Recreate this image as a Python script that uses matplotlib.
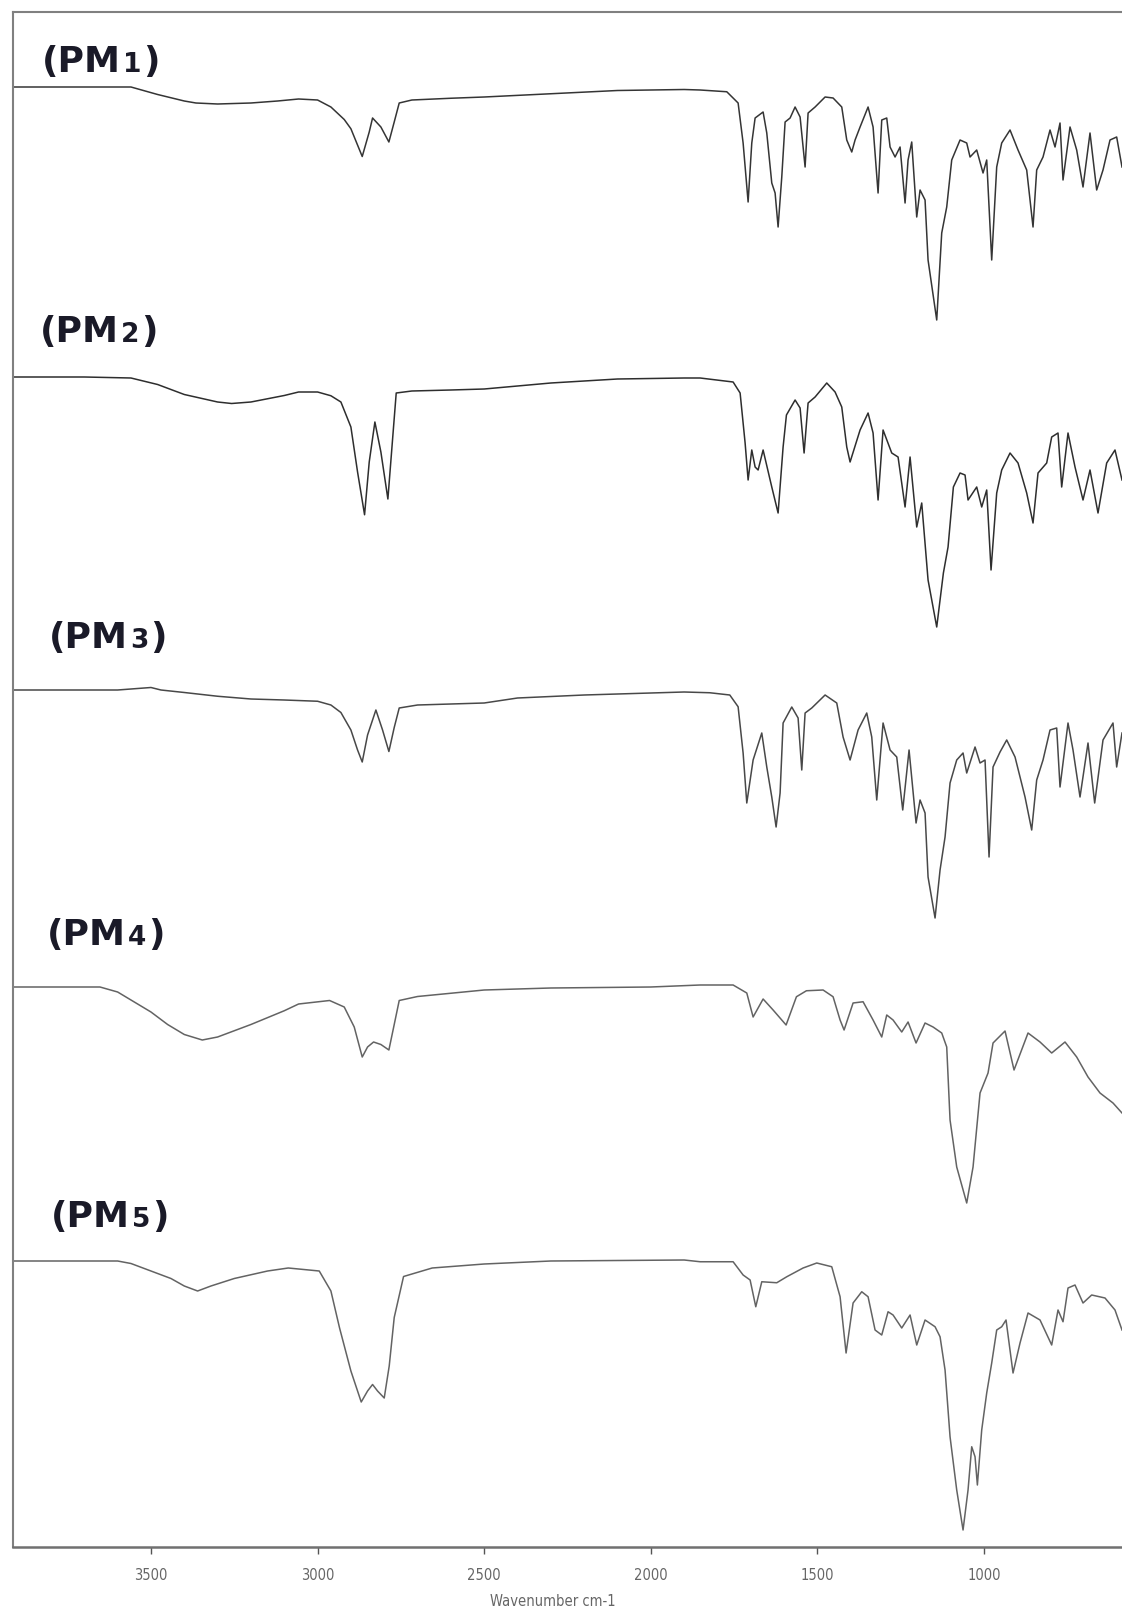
import matplotlib
matplotlib.use("Agg")
import matplotlib.pyplot as plt
import numpy as np

wn_pm1 = [3914, 3700, 3560, 3480, 3400, 3365, 3300, 3200, 3120, 3057, 3000, 2960, 2920, 2900, 2866, 2845,
          2835, 2810, 2786, 2770, 2755, 2717, 2600, 2500, 2300, 2100, 1900, 1852, 1772, 1738, 1723, 1708,
          1697, 1687, 1663, 1652, 1637, 1627, 1618, 1607, 1597, 1582, 1567, 1552, 1537, 1528, 1507, 1477,
          1453, 1427, 1412, 1397, 1387, 1372, 1348, 1333, 1318, 1307, 1292, 1282, 1267, 1252, 1237, 1228,
          1217, 1202, 1192, 1177, 1168, 1142, 1127, 1112, 1097, 1072, 1052, 1042, 1022, 1003, 992, 977,
          962, 947, 922, 898, 872, 853, 842, 823, 802, 787, 772, 763, 742, 722, 703, 682, 662, 643, 622,
          602, 586]
t_pm1 = [100, 100, 100, 97, 94.4, 93.6, 93.2, 93.6, 94.4, 95.2, 94.8, 92, 87, 83.3, 72.2, 82,
         87.6, 84, 78, 86, 93.6, 94.8, 95.5, 96, 97.3, 98.6, 99, 98.8, 98.1, 93.6, 77.6, 54,
         77.6, 87.6, 90, 81.6, 61.6, 57.6, 44, 64, 86, 87.6, 92, 88, 68, 89.6, 92, 96,
         95.6, 92, 78.8, 74, 78.8, 84, 92, 84, 57.6, 86.8, 87.6, 76, 72, 76, 53.6, 70.8,
         78, 48, 58.8, 54.8, 30.8, 6.8, 41.6, 52, 70.8, 78.8, 77.6, 72, 74.8, 65.6, 70.8, 30.8,
         68, 77.6, 82.8, 74.8, 66.8, 44, 66.8, 72, 82.8, 76, 85.6, 62.8, 84, 74.8, 60, 81.6, 58.8, 66.8, 78.8,
         80, 68]

wn_pm2 = [3914, 3700, 3560, 3480, 3400, 3300, 3258, 3200, 3100, 3057, 3000, 2960, 2930, 2900, 2880, 2859,
          2845, 2828, 2810, 2789, 2775, 2764, 2717, 2600, 2500, 2300, 2100, 1900, 1852, 1753, 1732, 1717,
          1708, 1697, 1687, 1678, 1663, 1637, 1618, 1603, 1593, 1567, 1552, 1540, 1528, 1507, 1472, 1447,
          1427, 1412, 1402, 1372, 1348, 1333, 1318, 1303, 1277, 1258, 1237, 1222, 1202, 1187, 1168, 1142,
          1122, 1108, 1092, 1072, 1057, 1048, 1022, 1007, 992, 979, 962, 947, 922, 898, 872, 853, 838,
          812, 797, 778, 767, 748, 727, 703, 682, 658, 632, 607, 586]
t_pm2 = [100, 100, 99.6, 97, 93, 90, 89.4, 90, 92.6, 94, 94, 92.5, 90, 80, 62, 44.9,
         66, 82, 70, 51.2, 75, 93.6, 94.4, 94.8, 95.2, 97.6, 99.2, 99.6, 99.6, 98, 93.6, 73.6,
         58.8, 70.8, 64, 62.8, 70.8, 56, 45.6, 72, 84.8, 90.8, 87.6, 69.6, 89.6, 92, 97.6, 94,
         88, 72, 66, 78.8, 85.6, 77.6, 50.8, 78.8, 69.6, 68, 48, 68, 40, 49.6, 18.8, 0,
         21.6, 32, 56, 61.6, 60.8, 50.8, 56, 48, 54.8, 22.8, 53.6, 62.8, 69.6, 65.6, 53.6, 41.6, 61.6,
         65.6, 76, 77.6, 56, 77.6, 64, 50.8, 62.8, 45.6, 65.6, 70.8, 58.8]

wn_pm3 = [3914, 3700, 3600, 3500, 3470, 3400, 3300, 3200, 3100, 3000, 2960, 2930, 2900, 2880, 2866, 2850,
          2825, 2805, 2786, 2770, 2755, 2700, 2500, 2400, 2200, 2000, 1900, 1823, 1763, 1738, 1723, 1712,
          1693, 1667, 1652, 1637, 1624, 1612, 1603, 1577, 1558, 1547, 1537, 1517, 1477, 1442, 1423, 1402,
          1378, 1352, 1337, 1322, 1303, 1282, 1262, 1244, 1225, 1204, 1192, 1177, 1168, 1147, 1132, 1117,
          1102, 1082, 1063, 1052, 1027, 1012, 997, 985, 973, 952, 932, 907, 877, 857, 842, 823, 802,
          782, 772, 748, 733, 712, 688, 668, 643, 613, 602, 586]
t_pm3 = [100, 100, 100, 101, 100, 99, 97.5, 96.4, 96, 95.5, 94, 91, 84, 76, 71.2, 82,
         92, 84, 75.4, 85, 92.8, 94, 94.8, 96.8, 98, 98.8, 99.2, 98.9, 98, 93.3, 74.8, 54.8,
         72, 82.8, 69.2, 57.2, 45.2, 58.8, 86.8, 93.2, 88.8, 68, 90.8, 92.8, 98, 94.8, 81.2, 72,
         84, 90.8, 81.2, 56, 86.8, 76, 73.2, 52, 76, 46.8, 56, 50.8, 25.2, 8.8, 28, 41.2,
         62.8, 72, 74.8, 66.8, 77.2, 70.8, 72, 33.2, 69.2, 75.2, 80, 73.2, 57.2, 44, 64, 72, 84,
         84.8, 61.2, 86.8, 76, 57.2, 78.8, 54.8, 80, 86.8, 69.2, 82.8]

wn_pm4 = [3914, 3750, 3653, 3600, 3550, 3500, 3450, 3400, 3346, 3300, 3200, 3100, 3057, 2964, 2920, 2890,
          2866, 2850, 2832, 2810, 2786, 2770, 2755, 2700, 2500, 2300, 2000, 1852, 1753, 1712, 1693, 1663,
          1633, 1594, 1563, 1533, 1483, 1453, 1432, 1420, 1393, 1363, 1333, 1307, 1292, 1273, 1247, 1228,
          1204, 1177, 1153, 1127, 1112, 1102, 1082, 1052, 1033, 1012, 988, 973, 937, 910, 868, 832, 797,
          757, 722, 688, 652, 613, 586]
t_pm4 = [100, 100, 100, 98, 94, 90, 85, 81, 78.8, 80, 85, 90.5, 93.2, 94.6, 92, 84,
         72, 76, 78, 77, 74.8, 85, 94.6, 96.2, 98.8, 99.6, 100, 100.8, 100.8, 97.6, 88, 95.2,
         90.8, 84.8, 96.1, 98.5, 98.8, 96.1, 86.8, 82.8, 93.6, 94.1, 86.8, 80, 88.8, 86.8, 82, 86,
         77.6, 85.6, 84, 81.6, 76, 46.8, 28, 13.6, 28, 57.6, 65.6, 77.6, 82.4, 66.8, 81.6, 78, 73.6,
         78, 72, 64, 57.6, 53.6, 49.6]

wn_pm5 = [3914, 3600, 3560, 3500, 3440, 3400, 3360, 3320, 3250, 3150, 3088, 2995, 2960, 2934, 2900, 2869,
          2850, 2835, 2820, 2800, 2785, 2770, 2742, 2656, 2500, 2300, 1900, 1852, 1753, 1723, 1702, 1685,
          1667, 1622, 1592, 1543, 1502, 1457, 1432, 1414, 1393, 1367, 1348, 1327, 1307, 1288, 1273, 1247,
          1222, 1202, 1177, 1147, 1132, 1117, 1102, 1082, 1063, 1048, 1037, 1027, 1020, 1007, 992, 977,
          962, 947, 934, 913, 892, 868, 832, 797, 778, 763, 748, 727, 703, 677, 637, 607, 586]
t_pm5 = [100, 100, 99, 96, 93, 90, 88, 90, 93, 96, 97.2, 96, 88, 73.2, 56, 43.6,
         48, 50.6, 48, 45.2, 58, 77.4, 93.8, 97.2, 98.8, 100, 100.4, 99.7, 99.7, 94.4, 92.4, 81.7,
         91.7, 91.3, 93.7, 97.2, 99.2, 97.7, 85.7, 63.2, 83.2, 87.7, 85.7, 72.4, 70.4, 79.7, 78.4, 73.2,
         78.4, 66.4, 76.4, 73.7, 69.7, 56.4, 29.7, 8.4, -7.6, 8.4, 25.7, 21.7, 10.4, 32.4, 47.2, 59.2,
         72.4, 73.7, 76.4, 55.2, 67.2, 79.2, 76.4, 66.4, 80.4, 75.7, 89.2, 90.4, 83.2, 86.4, 85.2, 80.4, 72.4]

muestras = ["1", "2", "3", "4", "5"]
desplaz = [484, 368, 242.8, 124, 14.4]   # desplazamiento vertical de cada espectro
colores = ["#353535", "#2e2e2e", "#484848", "#636363", "#636363"]

espectros = [(wn_pm1, t_pm1), (wn_pm2, t_pm2), (wn_pm3, t_pm3), (wn_pm4, t_pm4), (wn_pm5, t_pm5)]

# --- 2. Figura ---
W, H = 1122, 1614
fig = plt.figure(figsize=(W / 100, H / 100), dpi=100)
ax = fig.add_axes([13 / W, (H - 1547) / H, (W - 13) / W, (1547 - 12) / H])

for (wn, t), off, c in zip(espectros, desplaz, colores):
    ax.plot(wn, np.array(t) + off, color=c, lw=1.1)

ax.set_xlim(3914, 586)
ax.set_ylim(0, 614)
ax.set_xticks([3500, 3000, 2500, 2000, 1500, 1000])
ax.set_yticks([])
ax.tick_params(axis="x", direction="out", length=5, width=1, color="#555555",
               pad=10, labelsize=10.5, labelcolor="#666666")
for lab in ax.get_xticklabels():
    lab.set_fontstretch("condensed")

ax.spines["right"].set_visible(False)
ax.spines["left"].set_color("#808080")
ax.spines["top"].set_color("#808080")
ax.spines["bottom"].set_color("#707070")
ax.spines["left"].set_linewidth(1.5)
ax.spines["top"].set_linewidth(1.5)
ax.spines["bottom"].set_linewidth(1.8)

fig.text(553 / W, 1 - 1602 / H, "Wavenumber cm-1", ha="center", va="center",
         fontsize=10.5, color="#666666", fontstretch="condensed")

# --- 3. Etiquetas (PMn) ---
renderer = fig.canvas.get_renderer()
col_lab = "#1a1a28"
pos_lab = [(42, 72), (40, 342), (49, 648), (47, 945), (51, 1227)]   # izquierda, linea base (px)


def etiqueta(x_px, base_px, num):
    y = 1 - base_px / H
    t1 = fig.text(x_px / W, y, "(PM", fontsize=26, fontweight="bold", color=col_lab,
                  va="baseline", ha="left")
    bb = t1.get_window_extent(renderer)
    t2 = fig.text((bb.x1 + 2) / W, y, num, fontsize=19, fontweight="bold", color=col_lab,
                  va="baseline", ha="left")
    bb2 = t2.get_window_extent(renderer)
    fig.text((bb2.x1 + 2) / W, y, ")", fontsize=26, fontweight="bold", color=col_lab,
             va="baseline", ha="left")


for (xp, bp), n in zip(pos_lab, muestras):
    etiqueta(xp, bp, n)

fig.savefig("out.png", dpi=100)
